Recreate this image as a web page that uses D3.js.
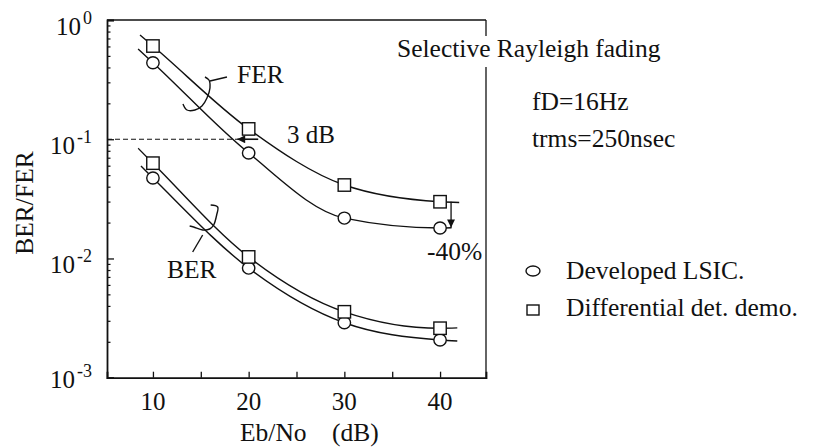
<!DOCTYPE html>
<html><head><meta charset="utf-8">
<script src="https://cdn.jsdelivr.net/npm/d3@7"></script>
<style>
html,body{margin:0;padding:0;background:#fff;}
svg{display:block;font-family:"Liberation Serif","Times New Roman",serif;}
</style></head>
<body>
<svg id="c" width="814" height="447"></svg>
<script>
// ---- data ----
const ebno = [10, 20, 30, 40];
const ferLSIC = [0.438, 0.0766, 0.0218, 0.018];
const ferDiff = [0.605, 0.122, 0.0413, 0.0299];
const berLSIC = [0.0473, 0.0083, 0.00289, 0.00207];
const berDiff = [0.063, 0.0103, 0.00357, 0.0026];
// fitted-curve extents (x, value) beyond the measured points
const ferLSICEnds = [[8.45, 0.571], [41.2, 0.0181]];
const ferDiffEnds = [[8.65, 0.748], [42.0, 0.0295]];
const berLSICEnds = [[8.75, 0.0595], [41.8, 0.00203]];
const berDiffEnds = [[8.46, 0.0839], [41.8, 0.00262]];
const xTicksMajor = [10, 20, 30, 40];
const xTicksMinor = [15, 25, 35];
const yDecades = [0, -1, -2, -3];
const legendLabels = ["Developed LSIC.", "Differential det. demo."];
const infoLines = ["fD=16Hz", "trms=250nsec"];
const titleText = "Selective Rayleigh fading";
const arrow3dB = {x1: 21.0, x2: 18.8, y: 0.1, label: "3 dB"};
const arrow40 = {x: 41.15, y1: 0.0299, y2: 0.0182, label: "-40%"};

const svg = d3.select("#c");
const ink = "#111";
const FS = 25.5;
const x = d3.scaleLinear().domain([5.2, 44.8]).range([107, 486]);
const y = d3.scaleLog().domain([1e-3, 1]).range([377.7, 20]);

// frame
const [x0, x1] = x.range(), [yb, yt] = y.range();
const frame = svg.append("g").attr("stroke", ink).attr("fill", "none");
frame.append("line").attr("x1", x0).attr("x2", x1).attr("y1", yt).attr("y2", yt).attr("stroke-width", 1.3);
frame.append("line").attr("x1", x1).attr("x2", x1).attr("y1", yt).attr("y2", yb).attr("stroke-width", 1.3);

// bottom axis (ticks inward)
const xAxis = d3.axisBottom(x).tickValues(xTicksMajor.concat(xTicksMinor)).tickSize(-6).tickFormat("");
const gx = svg.append("g").attr("transform", `translate(0,${yb})`).call(xAxis);
gx.select(".domain").attr("stroke", ink).attr("stroke-width", 1.8);
gx.selectAll(".tick line").attr("stroke", ink).attr("stroke-width", 1.3);
svg.append("g").selectAll("text").data(xTicksMajor).join("text")
  .attr("x", d => x(d)).attr("y", 410).attr("text-anchor", "middle")
  .attr("font-size", 25).attr("fill", ink).text(d => d);

// left axis
const minor = [];
for (let e = -3; e < 0; e++) for (let m = 2; m <= 9; m++) minor.push(m * Math.pow(10, e));
const yAxis = d3.axisLeft(y).tickValues(yDecades.map(e => Math.pow(10, e))).tickSize(-7).tickFormat("");
const gy = svg.append("g").attr("transform", `translate(${x0},0)`).call(yAxis);
gy.select(".domain").attr("stroke", ink).attr("stroke-width", 1.8);
gy.selectAll(".tick line").attr("stroke", ink).attr("stroke-width", 1.3);
const yAxisMinor = d3.axisLeft(y).tickValues(minor).tickSize(-3.5).tickFormat("");
const gym = svg.append("g").attr("transform", `translate(${x0},0)`).call(yAxisMinor);
gym.select(".domain").remove();
gym.selectAll(".tick line").attr("stroke", ink).attr("stroke-width", 1.2);

const yl = svg.append("g").selectAll("text").data(yDecades).join("text")
  .attr("x", d => d === 0 ? 56 : 50).attr("y", d => y(Math.pow(10, d)) + (d === -3 ? 10 : 15))
  .attr("font-size", 25).attr("fill", ink);
yl.append("tspan").text("10");
yl.append("tspan").attr("dx", 2).attr("dy", -11).attr("font-size", 18).text(d => d === 0 ? "0" : String(d));

// axis titles
svg.append("text").attr("transform", "translate(33,203) rotate(-90)").attr("text-anchor", "middle")
  .attr("font-size", FS).attr("fill", ink).text("BER/FER");
svg.append("text").attr("x", 240).attr("y", 441).attr("font-size", FS).attr("fill", ink)
  .attr("xml:space", "preserve").text("Eb/No    (dB)");

// curves
const line = d3.line().x(d => x(d[0])).y(d => y(d[1])).curve(d3.curveMonotoneX);
function pts(vals, ends) {
  return [ends[0]].concat(ebno.map((e, i) => [e, vals[i]]), [ends[1]]);
}
const curves = [[ferLSIC, ferLSICEnds], [ferDiff, ferDiffEnds], [berLSIC, berLSICEnds], [berDiff, berDiffEnds]];
svg.append("g").selectAll("path").data(curves).join("path")
  .attr("d", d => line(pts(d[0], d[1])))
  .attr("fill", "none").attr("stroke", ink).attr("stroke-width", 1.4);

// 3 dB dashed reference line and arrow
svg.append("line").attr("x1", x0).attr("x2", x(arrow3dB.x2)).attr("y1", y(arrow3dB.y)).attr("y2", y(arrow3dB.y))
  .attr("stroke", ink).attr("stroke-width", 1.2).attr("stroke-dasharray", "5,3");
svg.append("defs").append("marker").attr("id", "ah").attr("viewBox", "0 0 10 10")
  .attr("refX", 10).attr("refY", 5).attr("markerWidth", 10).attr("markerHeight", 8)
  .attr("markerUnits", "userSpaceOnUse").attr("orient", "auto")
  .append("path").attr("d", "M0,0 L10,5 L0,10 Z").attr("fill", ink);
svg.append("line").attr("x1", x(arrow3dB.x1)).attr("x2", x(arrow3dB.x2)).attr("y1", y(arrow3dB.y)).attr("y2", y(arrow3dB.y))
  .attr("stroke", ink).attr("stroke-width", 1.6).attr("marker-end", "url(#ah)");
svg.append("text").attr("x", 287).attr("y", 143).attr("font-size", 25).attr("fill", ink).text(arrow3dB.label);

// -40% arrow
svg.append("line").attr("x1", x(arrow40.x)).attr("x2", x(arrow40.x)).attr("y1", y(arrow40.y1)).attr("y2", y(arrow40.y2))
  .attr("stroke", ink).attr("stroke-width", 1.3).attr("marker-end", "url(#ah)");
svg.append("text").attr("x", 427).attr("y", 260).attr("font-size", FS).attr("fill", ink).text(arrow40.label);

// markers
const mk = svg.append("g");
[ferLSIC, berLSIC].forEach(vals => {
  mk.selectAll(null).data(ebno.map((e, i) => [e, vals[i]])).join("ellipse")
    .attr("cx", d => x(d[0])).attr("cy", d => y(d[1])).attr("rx", 6.2).attr("ry", 6)
    .attr("fill", "#fff").attr("stroke", ink).attr("stroke-width", 1.4);
});
[ferDiff, berDiff].forEach(vals => {
  mk.selectAll(null).data(ebno.map((e, i) => [e, vals[i]])).join("rect")
    .attr("x", d => x(d[0]) - 6.2).attr("y", d => y(d[1]) - 6.2).attr("width", 12.4).attr("height", 12.4)
    .attr("fill", "#fff").attr("stroke", ink).attr("stroke-width", 1.4);
});

// braces & labels
function brace(cx, cy, pathOffsets, leader, label, lx, ly) {
  const g = svg.append("g").attr("fill", "none").attr("stroke", ink).attr("stroke-width", 1.4);
  g.append("path").attr("d", d3.line().curve(d3.curveCatmullRom)(pathOffsets.map(p => [cx + p[0], cy + p[1]])));
  g.append("line").attr("x1", cx + leader[0][0]).attr("y1", cy + leader[0][1])
    .attr("x2", cx + leader[1][0]).attr("y2", cy + leader[1][1]);
  svg.append("text").attr("x", lx).attr("y", ly).attr("font-size", FS).attr("fill", ink).text(label);
}
// FER brace anchored at Eb/No 14.6
{
  const cx = x(14.6), cy = 92;
  brace(cx, cy, [[8, -15], [12, -12], [13, -4], [10, 6], [5, 14], [-2, 18], [-10, 18], [-14, 12]],
        [[13, -11], [30, -15]], "FER", 237, 83);
}
// BER brace anchored at Eb/No 15.3
{
  const cx = x(15.3), cy = 217;
  brace(cx, cy, [[7, -12], [14, -10], [13, -2], [10, 8], [6, 12], [-1, 13], [-10, 10], [-14, 9]],
        [[-1, 18], [-11, 35]], "BER", 167, 278);
}

// title & info
const tt = svg.append("text").attr("x", 397).attr("y", 57).attr("font-size", FS).attr("fill", ink).text(titleText);
const bb = tt.node().getBBox();
svg.append("rect").attr("x", x1 - 3).attr("y", bb.y + 2).attr("width", 6).attr("height", bb.height + 2).attr("fill", "#fff");
tt.raise();
svg.append("g").selectAll("text").data(infoLines).join("text")
  .attr("x", 532).attr("y", (d, i) => 110 + i * 37).attr("font-size", FS).attr("fill", ink).text(d => d);

// legend
const lg = svg.append("g");
lg.append("ellipse").attr("cx", 533).attr("cy", 271).attr("rx", 7).attr("ry", 5)
  .attr("fill", "#fff").attr("stroke", ink).attr("stroke-width", 1.4);
lg.append("rect").attr("x", 527).attr("y", 305).attr("width", 12).attr("height", 10)
  .attr("fill", "#fff").attr("stroke", ink).attr("stroke-width", 1.4);
lg.selectAll("text").data(legendLabels).join("text")
  .attr("x", 566).attr("y", (d, i) => 279 + i * 37).attr("font-size", FS).attr("fill", ink).text(d => d);
</script>
</body></html>
